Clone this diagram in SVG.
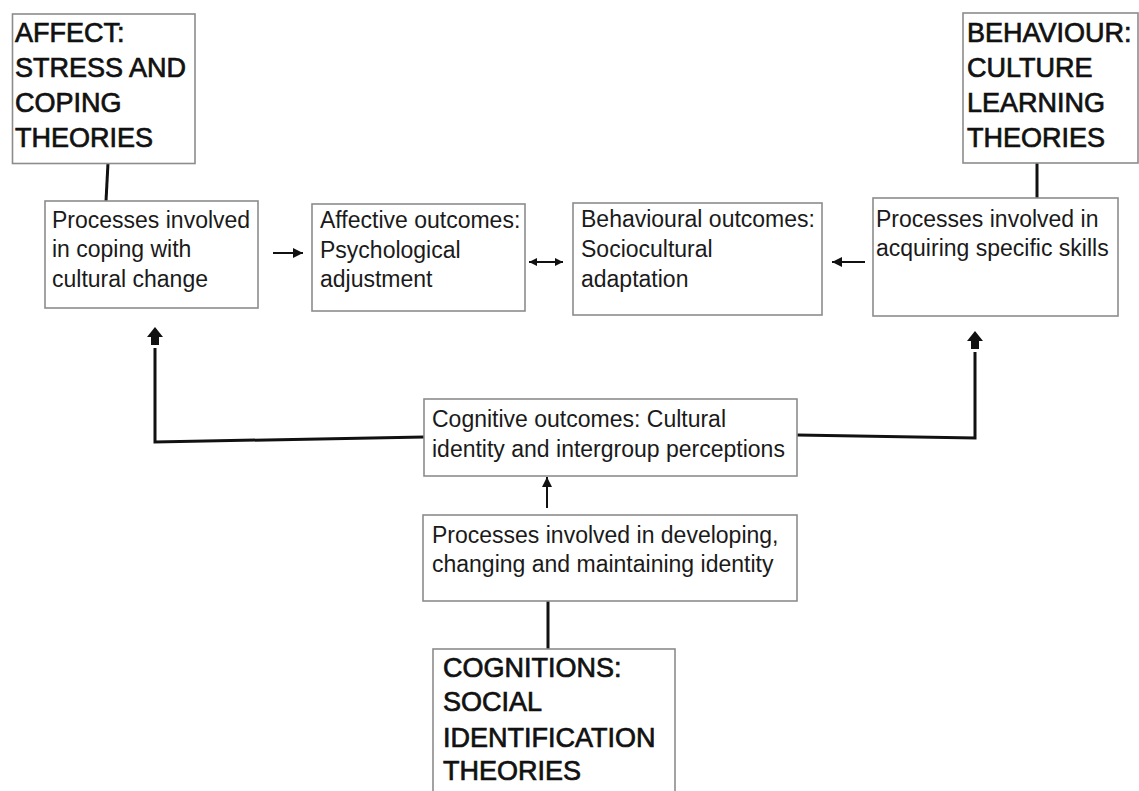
<svg xmlns="http://www.w3.org/2000/svg" width="1139" height="791" viewBox="0 0 1139 791">
  <style>
    .box { fill: #ffffff; stroke: #8c8c8c; stroke-width: 1.6; }
    .title { font-family: "Liberation Sans", Arial, sans-serif; font-size: 27px; fill: #111; stroke: #111; stroke-width: 0.7; }
    .body { font-family: "Liberation Sans", Arial, sans-serif; font-size: 23px; fill: #1a1a1a; }
    .thin { stroke: #111; stroke-width: 2; fill: none; }
    .thick { stroke: #111; stroke-width: 3; fill: none; }
    .head { fill: #111; }
  </style>
  <defs>
    <marker id="arr" markerUnits="userSpaceOnUse" markerWidth="12" markerHeight="10" refX="10" refY="5" orient="auto-start-reverse">
      <path d="M0,0 L10,5 L0,10 Z" fill="#111"/>
    </marker>
    <marker id="arrs" markerUnits="userSpaceOnUse" markerWidth="10" markerHeight="8" refX="8" refY="4" orient="auto-start-reverse">
      <path d="M0,0 L8,4 L0,8 Z" fill="#111"/>
    </marker>
  </defs>

  <g id="connectors">
    <line class="thick" x1="108" y1="163" x2="106" y2="201"/>
    <line class="thick" x1="1037" y1="163" x2="1037" y2="198"/>
    <line class="thin" x1="273" y1="253" x2="303" y2="253" marker-end="url(#arr)"/>
    <line class="thin" x1="529" y1="262" x2="563" y2="262" marker-start="url(#arrs)" marker-end="url(#arrs)"/>
    <line class="thin" x1="865" y1="262" x2="832" y2="262" marker-end="url(#arr)"/>
    <line class="thin" x1="547" y1="508" x2="547" y2="477" marker-end="url(#arr)"/>
    <line class="thick" x1="548" y1="601" x2="548" y2="649"/>
    <polyline class="thick" points="424,437 155,442 155,348"/>
    <polyline class="thick" points="797,435 975,438 975,352"/>
    <polygon class="head" points="155,327 163,337 159,337 159,345 151,345 151,337 147,337"/>
    <polygon class="head" points="975,331 983,341 979,341 979,349 971,349 971,341 967,341"/>
  </g>

  <g id="affect">
    <rect class="box" x="12.5" y="14" width="182.5" height="149.5"/>
    <text class="title" x="15" y="42">AFFECT:</text>
    <text class="title" x="15" y="77">STRESS AND</text>
    <text class="title" x="15" y="112">COPING</text>
    <text class="title" x="15" y="147">THEORIES</text>
  </g>

  <g id="behaviour">
    <rect class="box" x="963" y="13" width="175" height="150"/>
    <text class="title" x="967" y="42">BEHAVIOUR:</text>
    <text class="title" x="967" y="77">CULTURE</text>
    <text class="title" x="967" y="112">LEARNING</text>
    <text class="title" x="967" y="147">THEORIES</text>
  </g>

  <g id="coping">
    <rect class="box" x="45" y="201" width="213" height="107"/>
    <text class="body" x="52" y="228">Processes involved</text>
    <text class="body" x="52" y="257">in coping with</text>
    <text class="body" x="52" y="287">cultural change</text>
  </g>

  <g id="affective">
    <rect class="box" x="312" y="204" width="213" height="107"/>
    <text class="body" x="320" y="228">Affective outcomes:</text>
    <text class="body" x="320" y="258">Psychological</text>
    <text class="body" x="320" y="287">adjustment</text>
  </g>

  <g id="behavioural">
    <rect class="box" x="573" y="203" width="249" height="112"/>
    <text class="body" x="581" y="227">Behavioural outcomes:</text>
    <text class="body" x="581" y="257">Sociocultural</text>
    <text class="body" x="581" y="287">adaptation</text>
  </g>

  <g id="skills">
    <rect class="box" x="873" y="198" width="245" height="118"/>
    <text class="body" x="876" y="227">Processes involved in</text>
    <text class="body" x="876" y="256">acquiring specific skills</text>
  </g>

  <g id="cognitive">
    <rect class="box" x="424" y="399" width="373" height="77"/>
    <text class="body" x="432" y="427">Cognitive outcomes: Cultural</text>
    <text class="body" x="432" y="457">identity and intergroup perceptions</text>
  </g>

  <g id="identity">
    <rect class="box" x="423" y="515" width="374" height="86"/>
    <text class="body" x="432" y="543">Processes involved in developing,</text>
    <text class="body" x="432" y="572">changing and maintaining identity</text>
  </g>

  <g id="cognitions">
    <rect class="box" x="433" y="649" width="242" height="160"/>
    <text class="title" x="443" y="677">COGNITIONS:</text>
    <text class="title" x="443" y="711">SOCIAL</text>
    <text class="title" x="443" y="747">IDENTIFICATION</text>
    <text class="title" x="443" y="780">THEORIES</text>
  </g>
</svg>
